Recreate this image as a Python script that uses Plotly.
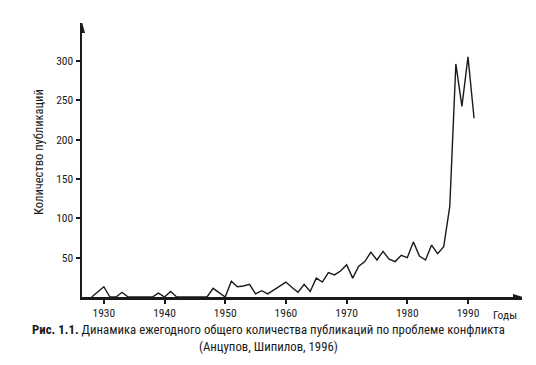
import plotly.graph_objects as go

years = list(range(1928, 1992))
counts = [
    0, 6, 13, 0, 0, 6, 0, 0, 0, 0,          # 1928-1937
    0, 5, 0, 7, 0, 0, 0, 0, 0, 0,           # 1938-1947
    11, 5, 0, 20, 13, 14, 16, 4, 8, 4,      # 1948-1957
    9, 14, 19, 12, 6, 16, 7, 24, 19, 31,    # 1958-1967
    28, 33, 41, 24, 39, 45, 57, 47, 58, 48, # 1968-1977
    45, 53, 50, 70, 52, 47, 66, 55, 64, 115,# 1978-1987
    296, 242, 305, 227                      # 1988-1991
]
x_ticks = [1930, 1940, 1950, 1960, 1970, 1980, 1990]
y_ticks = [50, 100, 150, 200, 250, 300]
x_axis_name = "Годы"
y_axis_name = "Количество публикаций"

W, H = 536, 365
L, R, T, B = 82, 14, 23, 68
PW, PH = W - L - R, H - T - B
X_RANGE = [1926.4, 1998.9]
Y_RANGE = [0, 348]

def px(xp):
    return (xp - L) / PW

def py(yp):
    return (H - B - yp) / PH

def xval(xp):
    return X_RANGE[0] + (xp - L) / PW * (X_RANGE[1] - X_RANGE[0])

FONT = "Roboto Condensed, Liberation Sans Narrow, sans-serif"
INK = "#1a1a1a"

fig = go.Figure()
fig.add_trace(go.Scatter(x=years, y=counts, mode="lines",
                         line=dict(color=INK, width=1.4),
                         showlegend=False, hoverinfo="skip"))
# empty helper trace so the overlay axis carrying the "Годы" label is drawn
fig.add_trace(go.Scatter(x=[None], y=[None], xaxis="x2", yaxis="y", mode="lines",
                         showlegend=False, hoverinfo="skip"))

fig.update_layout(
    width=W, height=H,
    margin=dict(l=L, r=R, t=T, b=B, pad=0),
    paper_bgcolor="white", plot_bgcolor="white",
    font=dict(family=FONT, size=11.5, color=INK),
    xaxis=dict(range=X_RANGE, tickvals=x_ticks, ticktext=[str(v) for v in x_ticks],
               showgrid=False, zeroline=False, showline=True, linecolor=INK,
               linewidth=2.5, ticks="outside", ticklen=4, tickwidth=2,
               tickcolor=INK, tickfont=dict(size=11.5), fixedrange=True),
    xaxis2=dict(range=X_RANGE, overlaying="x", anchor="y", side="bottom",
                tickvals=[xval(505)], ticktext=[x_axis_name], ticks="",
                showgrid=False, zeroline=False, showline=False,
                ticklabelstandoff=9, tickfont=dict(size=11.5), fixedrange=True),
    yaxis=dict(range=Y_RANGE, tickvals=y_ticks, ticktext=[str(v) for v in y_ticks],
               showgrid=False, zeroline=False, showline=True, linecolor=INK,
               linewidth=2.5, ticks="outside", ticklen=4, tickwidth=2,
               tickcolor=INK, tickfont=dict(size=11.5), fixedrange=True),
)

# axis arrowheads (pixel-sized triangles anchored at the axis ends)
fig.add_shape(type="path", xref="x", yref="y", xsizemode="pixel", ysizemode="pixel",
              xanchor=X_RANGE[1], yanchor=0, path="M 1,0 L -9,3 L -9,-3 Z",
              fillcolor=INK, line=dict(width=0), layer="above")
fig.add_shape(type="path", xref="x", yref="y", xsizemode="pixel", ysizemode="pixel",
              xanchor=X_RANGE[0], yanchor=Y_RANGE[1], path="M 0,1 L -3,-10 L 3,-10 Z",
              fillcolor=INK, line=dict(width=0), layer="above")

fig.add_annotation(text=y_axis_name, textangle=-90, x=px(38), y=py(152),
                   xref="paper", yref="paper", xanchor="center", yanchor="middle",
                   showarrow=False, font=dict(size=12.5, family=FONT))
fig.add_annotation(
    text="<b>Рис. 1.1.</b> Динамика ежегодного общего количества публикаций по проблеме конфликта"
         "<br>(Анцупов, Шипилов, 1996)",
    x=px(268), y=py(338), xref="paper", yref="paper", xanchor="center", yanchor="middle",
    showarrow=False, align="center", font=dict(size=12.8, family=FONT))

fig.write_html("out.html", config={"displayModeBar": False, "staticPlot": True},
               post_script="document.body.style.margin='0';")
